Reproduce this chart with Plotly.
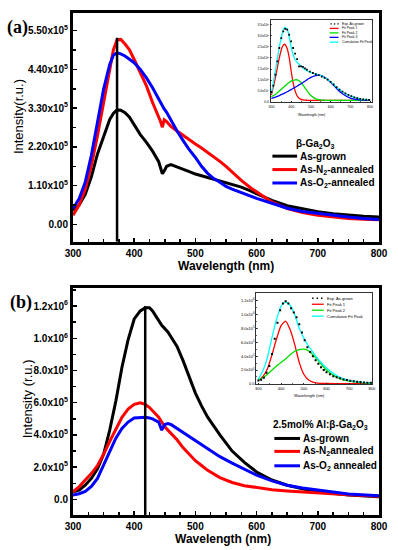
import plotly.graph_objects as go

# ---------------- data (intensities in units of 1e5 for panel a, 1e6 for panel b) ----------------
WL_A = [300, 310, 320, 330, 340, 350, 360, 366, 372, 378, 385, 392, 400, 410, 420, 430, 440, 443, 446, 449,
        453, 460, 470, 480, 490, 500, 510, 520, 530, 540, 550, 560, 575, 590, 600, 625, 650, 675, 700, 725,
        750, 775, 800]
AS_GROWN_A = [0.40, 0.55, 0.85, 1.35, 2.00, 2.52, 2.98, 3.15, 3.25, 3.24, 3.17, 3.05, 2.82, 2.55, 2.33, 2.08,
              1.78, 1.62, 1.44, 1.52, 1.65, 1.70, 1.64, 1.58, 1.50, 1.43, 1.38, 1.34, 1.29, 1.24, 1.20, 1.14,
              1.06, 0.95, 0.87, 0.68, 0.53, 0.44, 0.36, 0.30, 0.26, 0.23, 0.21]
N2_A = [0.26, 0.55, 1.00, 1.67, 2.52, 3.46, 4.45, 4.95, 5.24, 5.25, 5.12, 4.96, 4.68, 4.31, 3.93, 3.46, 3.08,
        2.92, 2.76, 2.97, 2.92, 2.78, 2.65, 2.52, 2.40, 2.28, 2.17, 2.05, 1.93, 1.79, 1.65, 1.49, 1.25, 1.04,
        0.92, 0.64, 0.45, 0.34, 0.26, 0.21, 0.17, 0.15, 0.13]
O2_A = [0.45, 0.73, 1.20, 1.96, 2.90, 3.84, 4.54, 4.80, 4.87, 4.84, 4.78, 4.70, 4.59, 4.40, 4.16, 3.88, 3.55,
        3.46, 3.36, 3.28, 3.18, 2.95, 2.65, 2.38, 2.12, 1.90, 1.65, 1.45, 1.30, 1.20, 1.08, 1.00, 0.90, 0.80,
        0.74, 0.60, 0.46, 0.37, 0.31, 0.25, 0.21, 0.17, 0.14]
PEAK_A = [372, 372]
PEAK_A_Y = [-0.488, 5.30]

WL_B = [300, 310, 320, 330, 340, 350, 360, 370, 380, 390, 400, 410, 418, 425, 430, 440, 445, 450, 455, 460,
        470, 480, 490, 500, 510, 520, 540, 560, 580, 600, 625, 650, 675, 700, 750, 800]
AS_GROWN_B = [0.047, 0.058, 0.088, 0.13, 0.19, 0.28, 0.43, 0.61, 0.82, 0.99, 1.12, 1.17, 1.19, 1.19, 1.17,
              1.11, 1.08, 1.06, 1.04, 1.01, 0.95, 0.86, 0.76, 0.66, 0.58, 0.51, 0.40, 0.30, 0.23, 0.17, 0.12,
              0.088, 0.065, 0.047, 0.027, 0.016]
N2_B = [0.047, 0.078, 0.12, 0.16, 0.21, 0.28, 0.36, 0.44, 0.51, 0.56, 0.59, 0.60, 0.59, 0.57, 0.55, 0.51,
        0.48, 0.45, 0.43, 0.41, 0.37, 0.32, 0.28, 0.24, 0.21, 0.18, 0.135, 0.105, 0.085, 0.072, 0.06, 0.052,
        0.045, 0.04, 0.028, 0.02]
O2_B = [0.027, 0.035, 0.05, 0.08, 0.13, 0.21, 0.30, 0.38, 0.44, 0.48, 0.505, 0.51, 0.51, 0.505, 0.50, 0.48,
        0.43, 0.465, 0.47, 0.465, 0.44, 0.41, 0.385, 0.36, 0.335, 0.31, 0.265, 0.225, 0.185, 0.15, 0.115,
        0.088, 0.07, 0.058, 0.033, 0.023]
PEAK_B = [418, 418]
PEAK_B_Y = [-0.097, 1.20]

# inset (a) : fits of the as-grown spectrum (units 1e5)
FIT_WL_A = [300, 320, 340, 355, 367, 380, 390, 400, 410, 420, 430, 440, 450, 460, 470, 480, 490, 500, 520,
            540, 560, 580, 600, 630, 660, 700, 750, 800]
FIT1_A = [0.33, 1.10, 2.00, 2.50, 2.62, 2.42, 2.03, 1.41, 0.87, 0.51, 0.29, 0.18, 0.13, 0.10, 0.09, 0.085,
          0.08, 0.08, 0.08, 0.08, 0.08, 0.08, 0.08, 0.08, 0.08, 0.08, 0.08, 0.08]
FIT2_A = [0.25, 0.35, 0.50, 0.62, 0.72, 0.82, 0.89, 0.95, 0.99, 1.01, 1.01, 0.97, 0.89, 0.78, 0.65, 0.52,
          0.40, 0.30, 0.17, 0.11, 0.09, 0.085, 0.08, 0.08, 0.08, 0.08, 0.08, 0.08]
FIT3_A = [0.17, 0.23, 0.30, 0.36, 0.41, 0.47, 0.52, 0.57, 0.62, 0.67, 0.72, 0.78, 0.83, 0.89, 0.95, 1.01,
          1.07, 1.12, 1.19, 1.22, 1.18, 1.06, 0.90, 0.62, 0.38, 0.18, 0.10, 0.08]
CUM_A = [0.40, 1.41, 2.49, 3.11, 3.38, 3.30, 2.96, 2.49, 2.15, 1.92, 1.80, 1.72, 1.63, 1.55, 1.48, 1.42,
         1.38, 1.35, 1.28, 1.23, 1.16, 1.06, 0.92, 0.68, 0.47, 0.27, 0.15, 0.10]
EXP_WL_A = [300, 310, 320, 330, 340, 350, 360, 370, 380, 390, 400, 410, 420, 430, 440, 450, 460, 470, 480,
            495, 510, 525, 540, 555, 570, 585, 600, 615, 630, 645, 660, 675, 690, 705, 720, 735, 750, 765,
            780, 795]
EXP_A = [0.45, 0.75, 1.25, 1.85, 2.45, 2.90, 3.20, 3.32, 3.28, 3.05, 2.75, 2.45, 2.20, 1.95, 1.62, 1.62,
         1.60, 1.53, 1.47, 1.38, 1.32, 1.27, 1.22, 1.16, 1.10, 1.02, 0.92, 0.80, 0.68, 0.57, 0.48, 0.40,
         0.33, 0.27, 0.22, 0.18, 0.15, 0.13, 0.11, 0.10]

# inset (b) : fits of the as-grown Al-doped spectrum (units 1e6)
FIT_WL_B = [300, 320, 340, 360, 380, 400, 420, 440, 460, 480, 500, 520, 540, 560, 600, 650, 700, 750, 800]
FIT1_B = [0.05, 0.11, 0.22, 0.42, 0.65, 0.84, 0.905, 0.78, 0.57, 0.31, 0.14, 0.06, 0.025, 0.012, 0.006,
          0.005, 0.005, 0.005, 0.005]
FIT2_B = [0.057, 0.09, 0.14, 0.20, 0.26, 0.31, 0.36, 0.42, 0.47, 0.495, 0.50, 0.48, 0.42, 0.35, 0.20,
          0.086, 0.04, 0.02, 0.01]
CUM_B = [0.07, 0.19, 0.38, 0.67, 0.93, 1.12, 1.18, 1.13, 1.00, 0.80, 0.66, 0.55, 0.46, 0.37, 0.23, 0.11,
         0.05, 0.025, 0.015]
EXP_WL_B = [300, 312, 324, 336, 348, 360, 372, 384, 396, 408, 420, 432, 444, 456, 468, 480, 492, 504, 516,
            528, 540, 552, 564, 576, 588, 600, 615, 630, 645, 660, 675, 690, 705, 720, 735, 750, 765, 780, 795]
EXP_B = [0.05, 0.06, 0.09, 0.16, 0.26, 0.43, 0.65, 0.88, 1.06, 1.16, 1.19, 1.16, 1.09, 1.03, 0.96, 0.86,
         0.74, 0.63, 0.53, 0.46, 0.40, 0.34, 0.29, 0.24, 0.20, 0.17, 0.14, 0.11, 0.095, 0.08, 0.065, 0.055,
         0.045, 0.038, 0.032, 0.027, 0.022, 0.018, 0.016]

# tick labels
X_TICKS = [300, 400, 500, 600, 700, 800]
YA_TICKS = [0, 1.1, 2.2, 3.3, 4.4, 5.5]
YA_TEXT = ["0.00", "1.10x10<sup>5</sup>", "2.20x10<sup>5</sup>", "3.30x10<sup>5</sup>",
           "4.40x10<sup>5</sup>", "5.50x10<sup>5</sup>"]
YB_TICKS = [0, 0.2, 0.4, 0.6, 0.8, 1.0, 1.2]
YB_TEXT = ["0.0", "2.0x10<sup>5</sup>", "4.0x10<sup>5</sup>", "6.0x10<sup>5</sup>", "8.0x10<sup>5</sup>",
           "1.0x10<sup>6</sup>", "1.2x10<sup>6</sup>"]
YIA_TICKS = [0, 0.5, 1.0, 1.5, 2.0, 2.5, 3.0, 3.5]
YIA_TEXT = ["0.0", "5.0x10<sup>4</sup>", "1.0x10<sup>5</sup>", "1.5x10<sup>5</sup>", "2.0x10<sup>5</sup>",
            "2.5x10<sup>5</sup>", "3.0x10<sup>5</sup>", "3.5x10<sup>5</sup>"]
YIB_TICKS = [0, 0.2, 0.4, 0.6, 0.8, 1.0, 1.2]
YIB_TEXT = YB_TEXT

# ---------------- layout geometry ----------------
W, H = 398, 550
ML, MR, MT, MB = 73, 15, 10, 35
PW, PH = W - ML - MR, H - MT - MB


def px(x):
    return (x - ML) / PW


def py(y):
    return (H - MB - y) / PH


BLACK, RED, BLUE, GREEN, CYAN = "#000000", "#ff0000", "#0000ff", "#00dd00", "#00ffff"
FONT = "Liberation Sans, Arial, sans-serif"

fig = go.Figure()


def main_line(x, y, color, xa, ya):
    fig.add_trace(go.Scatter(x=x, y=y, mode="lines", line=dict(color=color, width=3),
                             xaxis=xa, yaxis=ya, showlegend=False, hoverinfo="skip"))


main_line(WL_A, AS_GROWN_A, BLACK, "x", "y")
main_line(WL_A, N2_A, RED, "x", "y")
main_line(WL_A, O2_A, BLUE, "x", "y")
fig.add_trace(go.Scatter(x=PEAK_A, y=PEAK_A_Y, mode="lines", line=dict(color=BLACK, width=2.5),
                         xaxis="x", yaxis="y", showlegend=False, hoverinfo="skip"))

main_line(WL_B, AS_GROWN_B, BLACK, "x2", "y2")
main_line(WL_B, N2_B, RED, "x2", "y2")
main_line(WL_B, O2_B, BLUE, "x2", "y2")
fig.add_trace(go.Scatter(x=PEAK_B, y=PEAK_B_Y, mode="lines", line=dict(color=BLACK, width=2.5),
                         xaxis="x2", yaxis="y2", showlegend=False, hoverinfo="skip"))


def inset_line(x, y, color, xa, ya):
    fig.add_trace(go.Scatter(x=x, y=y, mode="lines", line=dict(color=color, width=1.3, shape="spline",
                                                                smoothing=0.6),
                             xaxis=xa, yaxis=ya, showlegend=False, hoverinfo="skip"))


inset_line(FIT_WL_A, FIT1_A, RED, "x3", "y3")
inset_line(FIT_WL_A, FIT2_A, GREEN, "x3", "y3")
inset_line(FIT_WL_A, FIT3_A, BLUE, "x3", "y3")
inset_line(FIT_WL_A, CUM_A, CYAN, "x3", "y3")
fig.add_trace(go.Scatter(x=EXP_WL_A, y=EXP_A, mode="markers",
                         marker=dict(symbol="square", size=1.8, color=BLACK), xaxis="x3", yaxis="y3",
                         showlegend=False, hoverinfo="skip"))

inset_line(FIT_WL_B, FIT1_B, RED, "x4", "y4")
inset_line(FIT_WL_B, FIT2_B, GREEN, "x4", "y4")
inset_line(FIT_WL_B, CUM_B, CYAN, "x4", "y4")
fig.add_trace(go.Scatter(x=EXP_WL_B, y=EXP_B, mode="markers",
                         marker=dict(symbol="square", size=2, color=BLACK), xaxis="x4", yaxis="y4",
                         showlegend=False, hoverinfo="skip"))

tickfont = dict(family=FONT, size=10, color="black", weight="bold")


def main_x(domain_anchor):
    return dict(range=[300, 800], tickmode="array", tickvals=X_TICKS, ticks="inside", ticklen=4,
                tickwidth=1.5, tickcolor="black", showline=True, mirror=True, linewidth=3,
                linecolor="black", showgrid=False, zeroline=False, tickfont=tickfont, anchor=domain_anchor,
                minor=dict(tickmode="linear", tick0=300, dtick=25, ticks="inside", ticklen=3, tickwidth=1.5,
                           tickcolor="black", showgrid=False))


def main_y(rng, vals, text, minor_dt, dom, anchor):
    return dict(range=rng, domain=dom, tickmode="array", tickvals=vals, ticktext=text, ticks="inside",
                ticklen=4, tickwidth=1.5, tickcolor="black", showline=True, mirror=True, linewidth=3,
                linecolor="black", showgrid=False, zeroline=False, tickfont=tickfont, anchor=anchor,
                minor=dict(tickmode="linear", tick0=0, dtick=minor_dt, ticks="inside", ticklen=3,
                           tickwidth=1.5, tickcolor="black", showgrid=False))


itf = dict(family=FONT, size=3.6, color="black")


def inset_x(rng, dom, anchor, fs):
    return dict(range=rng, domain=dom, anchor=anchor, tickmode="array", tickvals=X_TICKS, ticks="inside",
                ticklen=1.5, tickwidth=0.6, tickcolor="black", showline=True, mirror=True, linewidth=0.8,
                linecolor="black", showgrid=False, zeroline=False, tickfont=dict(itf, size=fs),
                minor=dict(tickmode="linear", tick0=300, dtick=50, ticks="inside", ticklen=1, tickwidth=0.6,
                           tickcolor="black", showgrid=False))


def inset_y(rng, dom, anchor, vals, text, fs, minor_dt):
    return dict(range=rng, domain=dom, anchor=anchor, tickmode="array", tickvals=vals, ticktext=text,
                ticks="inside", ticklen=1.5, tickwidth=0.6, tickcolor="black", showline=True, mirror=True,
                linewidth=0.8, linecolor="black", showgrid=False, zeroline=False,
                tickfont=dict(itf, size=fs),
                minor=dict(tickmode="linear", tick0=0, dtick=minor_dt, ticks="inside", ticklen=1,
                           tickwidth=0.6, tickcolor="black", showgrid=False))


fig.update_layout(
    width=W, height=H, margin=dict(l=ML, r=MR, t=MT, b=MB),
    paper_bgcolor="white", plot_bgcolor="white", showlegend=False, hovermode=False,
    xaxis=dict(main_x("y"), domain=[0, 1]),
    yaxis=main_y([-0.488, 6.0], YA_TICKS, YA_TEXT, 0.55, [py(240), py(10)], "x"),
    xaxis2=dict(main_x("y2"), domain=[0, 1]),
    yaxis2=main_y([-0.097, 1.31], YB_TICKS, YB_TEXT, 0.1, [py(515), py(287)], "x2"),
    xaxis3=inset_x([295, 810], [px(273), px(376)], "y3", 3.6),
    yaxis3=inset_y([-0.014, 3.72], [py(100), py(17)], "x3", YIA_TICKS, YIA_TEXT, 3.4, 0.25),
    xaxis4=inset_x([290, 803], [px(258.5), px(376.5)], "y4", 4),
    yaxis4=inset_y([-0.005, 1.305], [py(383.5), py(292)], "x4", YIB_TICKS, YIB_TEXT, 4, 0.1),
)

ann = []
shapes = []


def text(x, y, t, size, xanchor="center", bold=False, angle=0, family=FONT):
    ann.append(dict(x=px(x), y=py(y), xref="paper", yref="paper", text=t, showarrow=False,
                    xanchor=xanchor, yanchor="middle", textangle=angle,
                    font=dict(family=family, size=size, color="black", weight="bold" if bold else "normal")))


def seg(x0, x1, y, color, width):
    shapes.append(dict(type="line", xref="paper", yref="paper", x0=px(x0), x1=px(x1), y0=py(y), y1=py(y),
                       line=dict(color=color, width=width)))


def dot(x, y, s):
    shapes.append(dict(type="rect", xref="paper", yref="paper", x0=px(x - s / 2), x1=px(x + s / 2),
                       y0=py(y + s / 2), y1=py(y - s / 2), fillcolor="black", line=dict(width=0)))


# panel labels and axis titles
text(17, 25, "(a)", 18, bold=True, family="Liberation Serif, Times New Roman, serif")
text(20, 301, "(b)", 18, bold=True, family="Liberation Serif, Times New Roman, serif")
text(18, 114, "Intensity(r.u.)", 13, angle=-90)
text(27, 398, "Intensity (r.u.)", 13, angle=-90)
text(228, 265, "Wavelength (nm)", 12, bold=True)
text(225, 539.5, "Wavelength (nm)", 12, bold=True)

# legend (a)
text(318, 142, "β-Ga<sub>2</sub>O<sub>3</sub>", 10, bold=True)
for yy, col, lab in [(154, BLACK, "As-grown"), (167.5, RED, "As-N<sub>2</sub>-annealed"),
                     (181, BLUE, "As-O<sub>2</sub>-annealed")]:
    seg(275, 300, yy, col, 3)
    text(301, yy, lab, 10, xanchor="left", bold=True)

# legend (b)
text(324, 424, "2.5mol% Al:β-Ga<sub>2</sub>O<sub>3</sub>", 10, bold=True)
for yy, col, lab in [(438, BLACK, "As-grown"), (451, RED, "As-N<sub>2</sub>annealed"),
                     (465.5, BLUE, "As-O<sub>2</sub> annealed")]:
    seg(277, 303, yy, col, 3)
    text(304, yy, lab, 10, xanchor="left", bold=True)

# inset legend (a)
for xx in (334.5, 338, 341.5):
    dot(xx, 21, 1.3)
text(343, 21, "Exp. As-grown", 3.4, xanchor="left")
for yy, col, lab in [(25.5, RED, "Fit Peak 1"), (30, GREEN, "Fit Peak 2"), (34.5, BLUE, "Fit Peak 3"),
                     (39.3, CYAN, "Cumulative Fit Peak")]:
    seg(333, 342, yy, col, 1.3)
    text(343, yy, lab, 3.4, xanchor="left")
text(315, 113, "Wavelength (nm)", 3.6)

# inset legend (b)
for xx in (316, 320.5, 325):
    dot(xx, 297, 1.5)
text(328, 297, "Exp. As-grown", 4, xanchor="left")
for yy, col, lab in [(303, RED, "Fit Peak 1"), (309, GREEN, "Fit Peak 2"), (315, CYAN, "Cumulative Fit Peak")]:
    seg(315, 327, yy, col, 1.3)
    text(328, yy, lab, 4, xanchor="left")
text(313, 395, "Wavelength (nm)", 4)

fig.update_layout(annotations=ann, shapes=shapes)
fig.write_html("out.html", config={"displayModeBar": False, "staticPlot": True},
               post_script="document.body.style.margin='0';document.body.style.overflow='hidden';")
